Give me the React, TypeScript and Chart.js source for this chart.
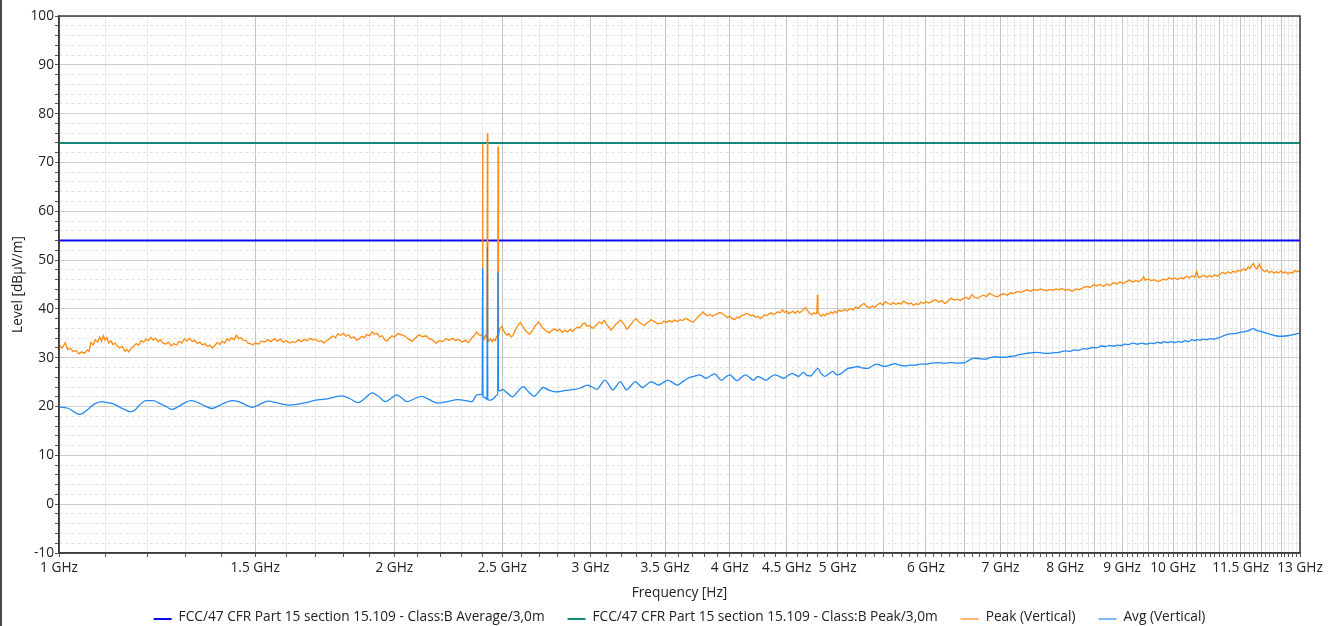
import React, { useEffect, useRef } from 'react';
import { Chart, registerables } from 'chart.js';

Chart.register(...registerables);

// ---- axis labels / limits ----
const X_LABEL_GHZ: number[] = [1, 1.5, 2, 2.5, 3, 3.5, 4, 4.5, 5, 6, 7, 8, 9, 10, 11.5, 13];
const X_MIN_GHZ = 1;
const X_MAX_GHZ = 13;
const Y_MIN = -10;
const Y_MAX = 100;
const Y_LABEL_STEP = 10;
const Y_MINOR_STEP = 2;

const LIMIT_AVG_LABEL = 'FCC/47 CFR Part 15 section 15.109 - Class:B Average/3,0m';
const LIMIT_PEAK_LABEL = 'FCC/47 CFR Part 15 section 15.109 - Class:B Peak/3,0m';
const PEAK_LABEL = 'Peak (Vertical)';
const AVG_LABEL = 'Avg (Vertical)';

const LIMIT_AVG_DBUV = 54;
const LIMIT_PEAK_DBUV = 74;

// ---- measured traces: [frequency GHz, level dBµV/m] ----
const PEAK_VERTICAL: [number, number][] = [
  [1.000, 32.6], [1.007, 32.0], [1.013, 33.1], [1.018, 31.7], [1.024, 31.9], [1.030, 31.3], [1.036, 31.5],
  [1.042, 30.8], [1.048, 31.2], [1.054, 30.9], [1.060, 31.6], [1.064, 31.3], [1.068, 33.1], [1.073, 32.6],
  [1.078, 33.7], [1.083, 33.2], [1.088, 34.2], [1.092, 33.4], [1.096, 34.5], [1.100, 33.6], [1.104, 34.1],
  [1.108, 33.0], [1.113, 33.5], [1.118, 32.7], [1.123, 33.0], [1.128, 32.4], [1.134, 32.0], [1.140, 32.3],
  [1.146, 31.3], [1.150, 31.7], [1.155, 31.2], [1.161, 32.0], [1.167, 32.3], [1.173, 32.9], [1.179, 32.6],
  [1.185, 33.5], [1.191, 33.2], [1.197, 33.8], [1.203, 33.5], [1.209, 34.2], [1.215, 33.6], [1.221, 34.0],
  [1.227, 33.3], [1.233, 33.7], [1.240, 33.0], [1.247, 32.8], [1.254, 33.2], [1.261, 32.4], [1.268, 32.9],
  [1.275, 32.6], [1.282, 33.4], [1.289, 33.0], [1.296, 33.9], [1.303, 33.4], [1.310, 34.0], [1.317, 33.3],
  [1.324, 33.6], [1.331, 32.9], [1.338, 33.2], [1.345, 32.6], [1.352, 32.9], [1.359, 32.3], [1.366, 32.6],
  [1.373, 32.0], [1.380, 32.5], [1.387, 33.1], [1.394, 32.7], [1.401, 33.4], [1.408, 33.0], [1.415, 33.9],
  [1.422, 33.5], [1.429, 34.1], [1.436, 33.7], [1.443, 34.6], [1.450, 33.9], [1.457, 34.1], [1.464, 33.5],
  [1.471, 33.6], [1.478, 33.0], [1.485, 32.9], [1.492, 32.6], [1.500, 33.0], [1.510, 32.8], [1.520, 33.4],
  [1.530, 33.2], [1.540, 33.7], [1.550, 33.3], [1.560, 33.9], [1.570, 33.4], [1.580, 33.8], [1.590, 33.2],
  [1.600, 33.5], [1.610, 33.0], [1.620, 33.3], [1.630, 33.1], [1.640, 33.7], [1.650, 33.3], [1.660, 33.8],
  [1.670, 33.5], [1.680, 34.0], [1.690, 33.6], [1.700, 33.8], [1.710, 33.3], [1.720, 33.5], [1.730, 33.0],
  [1.740, 33.6], [1.750, 33.9], [1.760, 34.5], [1.770, 34.1], [1.780, 34.9], [1.790, 34.6], [1.800, 35.0],
  [1.810, 34.4], [1.820, 34.7], [1.830, 34.0], [1.840, 34.3], [1.850, 33.6], [1.860, 33.9], [1.870, 34.4],
  [1.880, 34.1], [1.890, 34.8], [1.900, 34.5], [1.910, 35.3], [1.920, 34.8], [1.930, 35.0], [1.940, 34.3],
  [1.950, 34.5], [1.960, 33.7], [1.970, 33.4], [1.980, 34.0], [1.990, 34.5], [2.000, 34.2], [2.015, 35.0],
  [2.030, 34.7], [2.045, 34.4], [2.060, 33.8], [2.075, 33.4], [2.090, 34.1], [2.105, 34.7], [2.120, 34.3],
  [2.135, 34.5], [2.150, 33.9], [2.165, 33.6], [2.180, 33.0], [2.195, 33.5], [2.210, 33.3], [2.225, 33.9],
  [2.240, 33.6], [2.255, 34.0], [2.270, 33.5], [2.285, 33.8], [2.300, 33.2], [2.315, 33.6], [2.330, 33.1],
  [2.345, 33.9], [2.360, 34.6], [2.370, 35.3], [2.380, 34.8], [2.390, 34.5], [2.398, 34.8], [2.400, 73.7],
  [2.402, 34.6], [2.408, 33.8], [2.414, 34.6], [2.420, 34.1], [2.422, 34.4], [2.424, 76.0], [2.426, 34.2],
  [2.432, 33.4], [2.440, 33.9], [2.448, 33.3], [2.456, 33.8], [2.464, 33.5], [2.470, 34.3], [2.476, 34.6],
  [2.478, 73.2], [2.480, 34.5], [2.488, 36.0], [2.497, 36.4], [2.506, 35.6], [2.515, 35.0], [2.525, 34.6],
  [2.535, 34.9], [2.545, 34.3], [2.555, 34.5], [2.565, 35.4], [2.575, 36.2], [2.585, 36.8], [2.595, 37.2],
  [2.605, 36.6], [2.615, 36.0], [2.625, 35.4], [2.635, 35.1], [2.645, 34.8], [2.655, 35.3], [2.665, 35.8],
  [2.675, 36.5], [2.685, 36.9], [2.695, 37.3], [2.705, 36.8], [2.715, 36.2], [2.725, 35.9], [2.740, 35.4],
  [2.755, 35.1], [2.770, 35.6], [2.785, 35.9], [2.800, 35.5], [2.815, 35.8], [2.830, 35.2], [2.845, 35.6],
  [2.860, 35.3], [2.875, 35.8], [2.890, 35.4], [2.905, 35.9], [2.920, 36.3], [2.935, 36.1], [2.950, 36.9],
  [2.965, 37.1], [2.980, 36.4], [2.995, 36.6], [3.010, 36.0], [3.025, 36.4], [3.040, 36.8], [3.055, 37.3],
  [3.070, 37.0], [3.085, 37.7], [3.100, 36.9], [3.115, 36.3], [3.130, 35.7], [3.145, 36.2], [3.160, 36.8],
  [3.175, 37.2], [3.190, 37.7], [3.205, 37.3], [3.220, 36.6], [3.235, 35.8], [3.250, 36.4], [3.265, 37.0],
  [3.280, 37.6], [3.295, 38.0], [3.310, 37.5], [3.325, 37.1], [3.340, 36.8], [3.355, 36.6], [3.370, 37.1],
  [3.385, 37.4], [3.400, 37.8], [3.415, 37.5], [3.430, 37.3], [3.445, 36.9], [3.460, 37.1], [3.475, 37.0],
  [3.490, 37.5], [3.510, 37.2], [3.530, 37.6], [3.550, 37.3], [3.570, 37.7], [3.590, 37.4], [3.610, 37.8],
  [3.630, 37.6], [3.650, 38.1], [3.670, 37.8], [3.690, 37.5], [3.710, 37.3], [3.730, 37.9], [3.750, 38.5],
  [3.770, 38.9], [3.785, 39.4], [3.800, 38.9], [3.820, 38.6], [3.840, 38.9], [3.860, 38.5], [3.880, 38.8],
  [3.900, 39.0], [3.920, 39.3], [3.940, 39.0], [3.960, 38.6], [3.980, 38.3], [4.000, 38.5], [4.020, 38.0],
  [4.040, 37.8], [4.060, 38.3], [4.080, 38.2], [4.100, 38.7], [4.120, 38.8], [4.140, 39.1], [4.160, 38.9],
  [4.180, 38.6], [4.200, 38.7], [4.220, 38.3], [4.240, 38.5], [4.260, 38.0], [4.280, 38.4], [4.300, 38.8],
  [4.320, 38.6], [4.340, 39.0], [4.360, 39.2], [4.380, 38.8], [4.400, 39.1], [4.420, 39.4], [4.440, 39.2],
  [4.460, 39.8], [4.480, 39.3], [4.500, 39.6], [4.520, 39.0], [4.540, 39.3], [4.560, 39.5], [4.580, 39.1],
  [4.600, 39.6], [4.620, 39.2], [4.640, 39.5], [4.660, 39.9], [4.680, 40.3], [4.700, 39.6], [4.720, 39.0],
  [4.740, 38.8], [4.760, 39.2], [4.780, 39.0], [4.790, 39.4], [4.795, 42.9], [4.800, 39.3], [4.815, 38.9],
  [4.830, 38.5], [4.850, 38.9], [4.870, 38.6], [4.890, 39.1], [4.910, 38.9], [4.930, 39.4], [4.950, 39.1],
  [4.970, 39.5], [4.990, 39.2], [5.010, 39.7], [5.040, 39.5], [5.070, 39.9], [5.100, 39.6], [5.130, 40.1],
  [5.160, 39.8], [5.190, 40.4], [5.220, 40.1], [5.250, 40.8], [5.280, 41.1], [5.310, 40.5], [5.340, 40.2],
  [5.370, 40.6], [5.400, 40.3], [5.430, 40.9], [5.460, 41.2], [5.490, 40.8], [5.520, 41.5], [5.550, 41.1],
  [5.580, 40.9], [5.610, 41.3], [5.640, 40.9], [5.670, 41.2], [5.700, 41.0], [5.730, 41.6], [5.760, 41.3],
  [5.790, 41.0], [5.820, 41.2], [5.850, 40.7], [5.880, 41.1], [5.910, 40.9], [5.940, 41.4], [5.970, 41.1],
  [6.000, 41.5], [6.040, 41.2], [6.080, 41.6], [6.120, 41.9], [6.160, 41.4], [6.200, 41.7], [6.240, 41.1],
  [6.280, 41.6], [6.320, 42.2], [6.360, 41.8], [6.400, 42.0], [6.440, 41.7], [6.480, 42.1], [6.520, 42.4],
  [6.560, 42.0], [6.600, 42.9], [6.640, 42.3], [6.680, 42.2], [6.720, 42.6], [6.760, 42.8], [6.800, 42.5],
  [6.840, 43.2], [6.880, 42.9], [6.920, 42.6], [6.960, 42.5], [7.000, 42.9], [7.050, 43.1], [7.100, 42.8],
  [7.150, 43.3], [7.200, 43.2], [7.250, 43.6], [7.300, 43.4], [7.350, 43.7], [7.400, 43.9], [7.450, 43.6],
  [7.500, 44.0], [7.550, 43.8], [7.600, 44.1], [7.650, 43.9], [7.700, 43.7], [7.750, 44.0], [7.800, 43.8],
  [7.850, 44.1], [7.900, 43.9], [7.950, 44.2], [8.000, 43.8], [8.060, 44.0], [8.120, 43.6], [8.180, 44.1],
  [8.240, 43.9], [8.300, 44.3], [8.360, 44.6], [8.420, 44.4], [8.480, 44.9], [8.540, 44.7], [8.600, 45.0],
  [8.660, 44.6], [8.720, 45.1], [8.780, 44.8], [8.840, 45.4], [8.900, 45.1], [8.960, 45.5], [9.020, 45.2],
  [9.080, 45.6], [9.140, 45.9], [9.200, 45.5], [9.260, 45.8], [9.320, 45.6], [9.380, 46.0], [9.410, 46.6],
  [9.440, 45.9], [9.500, 46.1], [9.560, 45.8], [9.620, 46.0], [9.680, 45.6], [9.740, 45.8], [9.800, 46.1],
  [9.860, 45.9], [9.920, 46.4], [9.980, 46.1], [10.04, 46.3], [10.10, 46.0], [10.16, 46.4], [10.22, 46.2],
  [10.28, 46.7], [10.34, 46.4], [10.40, 46.8], [10.46, 46.5], [10.50, 47.7], [10.54, 46.4], [10.60, 46.6],
  [10.66, 46.9], [10.72, 46.5], [10.78, 46.8], [10.84, 46.6], [10.90, 47.0], [10.96, 46.7], [11.02, 47.1],
  [11.08, 47.5], [11.14, 47.2], [11.20, 47.6], [11.26, 47.3], [11.32, 47.7], [11.38, 47.5], [11.44, 47.9],
  [11.50, 47.7], [11.56, 48.2], [11.62, 47.9], [11.68, 48.6], [11.72, 48.3], [11.77, 49.0], [11.81, 49.3],
  [11.85, 48.5], [11.90, 48.2], [11.95, 49.2], [11.99, 48.4], [12.04, 47.9], [12.09, 47.6], [12.14, 47.9],
  [12.20, 47.4], [12.26, 47.7], [12.32, 47.3], [12.38, 47.6], [12.44, 47.4], [12.50, 47.8], [12.56, 47.3],
  [12.62, 47.6], [12.68, 47.2], [12.74, 47.5], [12.80, 47.3], [12.86, 47.9], [12.92, 47.6], [12.97, 47.8],
  [13.00, 47.6],
];

const AVG_VERTICAL: [number, number][] = [
  [1.000, 19.9], [1.010, 19.8], [1.020, 19.6], [1.030, 19.0], [1.042, 18.4], [1.050, 18.6], [1.060, 19.3],
  [1.070, 20.1], [1.080, 20.7], [1.093, 21.0], [1.105, 20.8], [1.120, 20.5], [1.135, 19.8], [1.150, 19.2],
  [1.160, 18.95], [1.170, 19.3], [1.180, 20.2], [1.197, 21.2], [1.215, 21.2], [1.230, 20.7], [1.250, 19.9],
  [1.263, 19.4], [1.280, 20.0], [1.300, 20.9], [1.314, 21.2], [1.330, 20.9], [1.350, 20.2], [1.372, 19.6],
  [1.390, 20.1], [1.410, 20.8], [1.430, 21.2], [1.450, 21.0], [1.470, 20.4], [1.490, 19.85], [1.510, 20.3],
  [1.525, 20.8], [1.543, 21.1], [1.560, 20.9], [1.580, 20.6], [1.610, 20.3], [1.640, 20.5], [1.666, 20.8],
  [1.700, 21.3], [1.733, 21.5], [1.765, 21.9], [1.795, 22.2], [1.825, 21.6], [1.855, 20.8], [1.880, 21.6],
  [1.910, 22.8], [1.935, 22.1], [1.963, 21.0], [1.985, 21.6], [2.010, 22.4], [2.030, 21.8], [2.053, 21.0],
  [2.085, 21.6], [2.115, 22.1], [2.150, 21.4], [2.188, 20.7], [2.230, 21.0], [2.280, 21.4], [2.320, 21.2],
  [2.347, 21.0], [2.370, 22.3], [2.390, 22.5], [2.398, 22.4], [2.400, 48.2], [2.402, 22.0], [2.410, 21.9],
  [2.420, 21.5], [2.422, 21.6], [2.424, 52.7], [2.426, 21.4], [2.440, 21.3], [2.460, 21.8], [2.470, 22.3],
  [2.476, 22.5], [2.478, 47.6], [2.480, 23.4], [2.490, 23.2], [2.500, 23.5], [2.525, 22.8], [2.553, 22.0],
  [2.580, 23.0], [2.610, 24.1], [2.640, 23.0], [2.670, 22.1], [2.695, 23.0], [2.720, 23.9], [2.755, 23.3],
  [2.790, 23.0], [2.850, 23.3], [2.900, 23.5], [2.940, 23.8], [2.980, 24.4], [3.010, 24.0], [3.040, 23.5],
  [3.065, 24.5], [3.090, 25.4], [3.115, 24.5], [3.140, 23.4], [3.165, 24.2], [3.190, 25.1], [3.210, 24.3],
  [3.230, 23.4], [3.260, 24.2], [3.290, 25.1], [3.315, 24.5], [3.340, 23.9], [3.370, 24.5], [3.400, 25.1],
  [3.425, 24.8], [3.450, 24.4], [3.485, 24.9], [3.520, 25.4], [3.555, 24.9], [3.590, 24.4], [3.630, 25.1],
  [3.670, 25.8], [3.715, 26.2], [3.760, 26.5], [3.810, 25.8], [3.845, 26.3], [3.880, 26.7], [3.905, 26.0],
  [3.930, 25.4], [3.965, 26.0], [4.000, 26.5], [4.030, 25.9], [4.060, 25.3], [4.095, 25.9], [4.130, 26.5],
  [4.165, 26.0], [4.200, 25.4], [4.240, 26.2], [4.275, 25.8], [4.310, 25.4], [4.350, 26.0], [4.390, 26.5],
  [4.430, 26.2], [4.470, 25.8], [4.510, 26.3], [4.550, 26.8], [4.580, 26.5], [4.610, 26.2], [4.660, 27.0],
  [4.690, 26.4], [4.730, 26.3], [4.760, 27.0], [4.800, 27.8], [4.830, 26.8], [4.870, 26.2], [4.910, 26.7],
  [4.950, 27.2], [4.990, 26.5], [5.030, 26.7], [5.070, 27.3], [5.110, 27.8], [5.160, 28.0], [5.210, 28.2],
  [5.260, 27.9], [5.320, 27.8], [5.370, 28.3], [5.420, 28.7], [5.470, 28.4], [5.510, 28.2], [5.570, 28.5],
  [5.630, 28.8], [5.680, 28.5], [5.740, 28.3], [5.800, 28.5], [5.870, 28.5], [5.930, 28.7], [5.990, 28.7],
  [6.070, 28.9], [6.150, 29.0], [6.240, 28.9], [6.330, 29.0], [6.410, 28.9], [6.500, 29.0], [6.560, 29.5],
  [6.630, 29.9], [6.700, 29.8], [6.780, 29.7], [6.850, 30.0], [6.920, 30.2], [7.000, 30.1], [7.070, 30.1],
  [7.150, 30.3], [7.220, 30.4], [7.300, 30.7], [7.380, 30.9], [7.460, 31.0], [7.540, 31.1], [7.620, 31.0],
  [7.700, 30.9], [7.800, 31.0], [7.900, 31.1], [8.000, 31.4], [8.080, 31.3], [8.150, 31.6], [8.230, 31.5],
  [8.310, 31.85], [8.380, 31.8], [8.460, 32.1], [8.540, 32.0], [8.620, 32.4], [8.700, 32.3], [8.770, 32.5],
  [8.850, 32.4], [8.920, 32.6], [9.000, 32.5], [9.050, 32.8], [9.120, 32.7], [9.200, 33.0], [9.290, 32.8],
  [9.380, 33.0], [9.460, 32.8], [9.550, 33.0], [9.620, 32.9], [9.680, 33.2], [9.750, 33.0], [9.820, 33.3],
  [9.890, 33.1], [9.960, 33.3], [10.03, 33.1], [10.10, 33.3], [10.18, 33.2], [10.25, 33.5], [10.32, 33.3],
  [10.40, 33.7], [10.46, 33.5], [10.52, 33.7], [10.58, 33.6], [10.63, 33.8], [10.72, 33.7], [10.80, 33.9],
  [10.88, 33.8], [10.95, 34.0], [11.05, 34.3], [11.15, 34.7], [11.27, 34.9], [11.40, 35.0], [11.55, 35.3],
  [11.67, 35.5], [11.75, 35.8], [11.80, 36.0], [11.86, 35.7], [11.93, 35.5], [12.03, 35.3], [12.15, 35.0],
  [12.27, 34.7], [12.40, 34.45], [12.55, 34.4], [12.68, 34.5], [12.80, 34.7], [12.90, 34.9], [13.00, 35.0],
];

const FONT_FAMILY = '"Open Sans", "Noto Sans", sans-serif';
const FONT_SIZE = 13.7;
const TEXT_COLOR = '#222222';

const xGridTicks = (): number[] => {
  const out: number[] = [];
  for (let i = Math.round(X_MIN_GHZ * 10); i <= Math.round(X_MAX_GHZ * 10); i++) out.push(i / 10);
  return out;
};
const yGridTicks = (): number[] => {
  const out: number[] = [];
  for (let v = Y_MIN; v <= Y_MAX; v += Y_MINOR_STEP) out.push(v);
  return out;
};

const frameAndLegend = {
  id: 'frameAndLegend',
  afterDraw(chart: any) {
    const { ctx, chartArea } = chart;
    ctx.save();
    // plot frame
    ctx.strokeStyle = '#3c3c3c';
    ctx.lineWidth = 1.5;
    ctx.strokeRect(chartArea.left, chartArea.top, chartArea.right - chartArea.left, chartArea.bottom - chartArea.top);

    // legend
    ctx.font = `${FONT_SIZE}px ${FONT_FAMILY}`;
    ctx.textBaseline = 'middle';
    ctx.textAlign = 'left';
    const LINE = 18;
    const GAP_TEXT = 7;
    const GAP_ITEM = 23;
    const items = chart.data.datasets.map((ds: any) => ({
      label: ds.label as string,
      color: ds.borderColor as string,
      width: ds.legendWidth as number,
    }));
    const widths = items.map((it: any) => LINE + GAP_TEXT + ctx.measureText(it.label).width);
    const total = widths.reduce((a: number, b: number) => a + b, 0) + GAP_ITEM * (items.length - 1);
    let x = (chartArea.left + chartArea.right) / 2 - total / 2;
    const y = chart.height - 9;
    items.forEach((it: any, i: number) => {
      ctx.strokeStyle = it.color;
      ctx.lineWidth = it.width;
      ctx.beginPath();
      ctx.moveTo(x, y + 2);
      ctx.lineTo(x + LINE, y + 2);
      ctx.stroke();
      ctx.fillStyle = TEXT_COLOR;
      ctx.fillText(it.label, x + LINE + GAP_TEXT, y);
      x += widths[i] + GAP_ITEM;
    });
    ctx.restore();
  },
};

export default function App() {
  const canvasRef = useRef<HTMLCanvasElement | null>(null);

  useEffect(() => {
    if (!canvasRef.current) return;
    const toPts = (arr: [number, number][]) => arr.map(([x, y]) => ({ x, y }));
    const chart = new Chart(canvasRef.current, {
      type: 'line',
      data: {
        datasets: [
          {
            label: LIMIT_AVG_LABEL,
            data: [{ x: X_MIN_GHZ, y: LIMIT_AVG_DBUV }, { x: X_MAX_GHZ, y: LIMIT_AVG_DBUV }],
            borderColor: '#0a0af0',
            borderWidth: 2,
            legendWidth: 2,
            pointRadius: 0,
            order: 3,
          } as any,
          {
            label: LIMIT_PEAK_LABEL,
            data: [{ x: X_MIN_GHZ, y: LIMIT_PEAK_DBUV }, { x: X_MAX_GHZ, y: LIMIT_PEAK_DBUV }],
            borderColor: '#16877b',
            borderWidth: 2,
            legendWidth: 2,
            pointRadius: 0,
            order: 2,
          } as any,
          {
            label: PEAK_LABEL,
            data: toPts(PEAK_VERTICAL),
            borderColor: '#ff8a10',
            borderWidth: 1.3,
            legendWidth: 1.2,
            pointRadius: 0,
            tension: 0,
            order: 1,
          } as any,
          {
            label: AVG_LABEL,
            data: toPts(AVG_VERTICAL),
            borderColor: '#2389f0',
            borderWidth: 1.3,
            legendWidth: 1.2,
            pointRadius: 0,
            cubicInterpolationMode: 'monotone',
            order: 0,
          } as any,
        ],
      },
      options: {
        animation: false,
        responsive: true,
        maintainAspectRatio: false,
        layout: { padding: { left: 0, right: 41, top: 16, bottom: 0 } },
        plugins: {
          legend: { display: false },
          tooltip: { enabled: false },
        },
        scales: {
          x: {
            type: 'logarithmic',
            min: X_MIN_GHZ,
            max: X_MAX_GHZ,
            afterBuildTicks: (scale: any) => {
              scale.ticks = xGridTicks().map((v) => ({ value: v }));
            },
            afterFit: (scale: any) => {
              scale.height = 73;
            },
            ticks: {
              autoSkip: false,
              maxRotation: 0,
              minRotation: 0,
              padding: 3,
              color: TEXT_COLOR,
              font: { family: FONT_FAMILY, size: FONT_SIZE },
              callback: (value: any) => {
                const v = Number(value);
                const l = X_LABEL_GHZ.find((t) => Math.abs(t - v) < 1e-6);
                return l !== undefined ? `${l} GHz` : '';
              },
            },
            grid: {
              color: (c: any) => {
                if (!c.tick) return '#c6c6c6';
                const k = Math.round(c.tick.value * 10);
                return k % 5 === 0 ? '#c4c4c4' : '#ebebeb';
              },
              lineWidth: 1,
              tickLength: 4,
              tickColor: '#555555',
            },
            border: { display: true, color: '#3c3c3c', width: 1.5 },
            title: {
              display: true,
              text: 'Frequency [Hz]',
              color: TEXT_COLOR,
              font: { family: FONT_FAMILY, size: FONT_SIZE },
              padding: { top: 4, bottom: 25 },
            },
          },
          y: {
            type: 'linear',
            min: Y_MIN,
            max: Y_MAX,
            afterBuildTicks: (scale: any) => {
              scale.ticks = yGridTicks().map((v) => ({ value: v }));
            },
            afterFit: (scale: any) => {
              scale.width = 59;
            },
            ticks: {
              autoSkip: false,
              padding: 1,
              color: TEXT_COLOR,
              font: { family: FONT_FAMILY, size: FONT_SIZE },
              callback: (value: any) => {
                const v = Math.round(Number(value));
                return v % Y_LABEL_STEP === 0 ? String(v) : '';
              },
            },
            grid: {
              color: (c: any) => {
                if (!c.tick) return '#cccccc';
                const v = Math.round(c.tick.value);
                return v % Y_LABEL_STEP === 0 ? '#cdcdcd' : '#e2e2e2';
              },
              lineWidth: 1,
              tickLength: 4,
              tickColor: '#555555',
            },
            border: {
              display: true,
              color: '#3c3c3c',
              width: 1.5,
              dash: (c: any) => {
                if (!c || !c.tick) return [];
                const v = Math.round(c.tick.value);
                return v % Y_LABEL_STEP === 0 ? [] : [3, 3];
              },
            } as any,
            title: {
              display: true,
              text: 'Level [dBμV/m]',
              color: TEXT_COLOR,
              font: { family: FONT_FAMILY, size: FONT_SIZE },
              padding: { top: 10, bottom: 0 },
            },
          },
        },
      } as any,
      plugins: [frameAndLegend],
    });
    return () => chart.destroy();
  }, []);

  return (
    <div style={{ position: 'absolute', left: 0, top: 0, width: 1341, height: 626, background: '#ffffff' }}>
      <div style={{ position: 'absolute', left: 0, top: 0, width: 2, height: 626, background: '#4a4a4a' }} />
      <canvas ref={canvasRef} />
    </div>
  );
}
